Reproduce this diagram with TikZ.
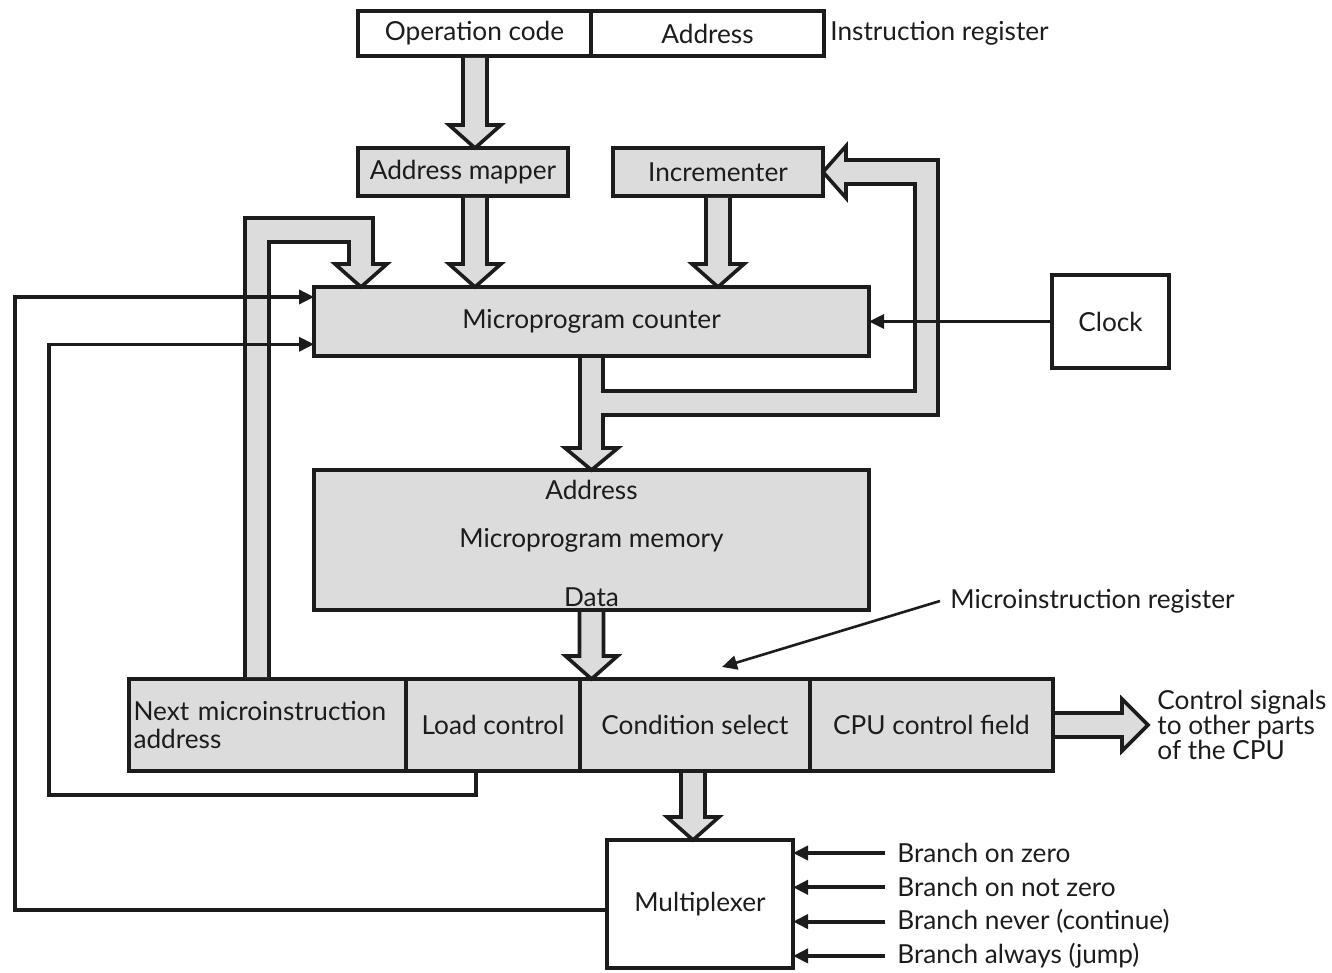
\documentclass[tikz,border=0pt]{standalone}
\usepackage{fontspec}
\setmainfont{Lato}
\usetikzlibrary{positioning,calc,arrows.meta}
\definecolor{panel}{RGB}{220,220,220}
\definecolor{ink}{RGB}{28,28,28}

\begin{document}
\begin{tikzpicture}[x=0.5pt, y=-0.5pt, >={Triangle[length=7.5pt,width=7pt]},
    font=\fontsize{13.1}{14}\selectfont, text=ink,
    box/.style={draw=ink, line width=1.7pt, fill=panel, outer sep=0pt, inner sep=2pt},
    plainbox/.style={box, fill=white},
    pipe/.style={draw=ink, line width=1.8pt, fill=panel, line join=miter},
    wire/.style={draw=ink, line width=1.7pt},
    tag/.style={inner sep=2pt, anchor=west}]
    \useasboundingbox (0,0) rectangle (1332,973);

    % instruction register
    \node[plainbox, minimum width=116.5pt, minimum height=22.5pt] (opcode) at (474.5,33.5) {Operation code};
    \node[plainbox, minimum width=116.5pt, minimum height=22.5pt, right=0pt of opcode] (addr) {Address};
    \node[tag] (irname) at (826,33) {Instruction register};

    % mapper, incrementer, counter, clock
    \node[box, minimum width=105pt, minimum height=24pt] (mapper) at (463,172) {Address mapper};
    \node[box, minimum width=105pt, minimum height=24pt] (incr) at (718,172) {Incrementer};
    \node[box, minimum width=277.5pt, minimum height=34.5pt] (upc) at (591.5,321.5) {Microprogram counter};
    \node[plainbox, minimum width=58.5pt, minimum height=46.5pt] (clock) at (1110.5,321.5) {Clock};

    % memory
    \node[box, minimum width=277.5pt, minimum height=70pt] (mem) at (591.5,540) {};
    \node (memaddr) at ($(mem.north)+(0,20)$) {Address};
    \node (memname) at (mem.center) {Microprogram memory};
    \node (memdata) at ($(mem.south)+(0,-13)$) {Data};

    % microinstruction register
    \node[box, minimum width=138.5pt, minimum height=46pt, text width=134pt, align=left] (next) at (267.5,725) {Next microinstruction\\address};
    \node[box, minimum width=87pt, minimum height=46pt, right=0pt of next] (load) {Load control};
    \node[box, minimum width=115pt, minimum height=46pt, right=0pt of load] (cond) {Condition select};
    \node[box, minimum width=121.5pt, minimum height=46pt, right=0pt of cond] (cpu) {CPU control field};
    \node[tag, align=left, font=\fontsize{13.1}{12.5}\selectfont] (signals) at (1153,725) {Control signals\\to other parts\\of the CPU};
    \node[tag] (mirname) at (946,601) {Microinstruction register};

    % multiplexer
    \node[plainbox, minimum width=93pt, minimum height=64pt] (mux) at (700,904) {Multiplexer};

    % wide data paths
    \foreach \from/\to/\cx in {opcode/mapper/475, mapper/upc/475, incr/upc/718, mem/cond/591.5, cond/mux/693} {
        \coordinate (s) at (\cx,0 |- \from.south);
        \coordinate (t) at (\cx,0 |- \to.north);
        \draw[pipe] ($(s)+(-12,2)$) -- ($(t)+(-12,-23)$) -- ++(-14,0) -- ++(26,23)
            -- ++(26,-23) -- ++(-14,0) -- ($(s)+(12,2)$);
    }
    \draw[pipe] ($(next.north west)+(116,-2)$) -- (245,218) -- (373,218) -- (373,264) -- (387,264)
        -- (361,287) -- (335,264) -- (349,264) -- (349,242) -- (269,242) -- ($(next.north west)+(140,-2)$);
    \draw[pipe] (580,358) -- (580,448) -- (565,448) -- (591.5,470) -- (618,448) -- (603,448)
        -- (603,415) -- (938,415) -- (938,160) -- (846,160) -- (846,146) -- (823,172)
        -- (846,198) -- (846,184) -- (915,184) -- (915,391) -- (603,391) -- (603,358);
    \draw[pipe] ($(cpu.east)+(2,-12)$) -- (1122,713) -- (1122,699) -- (1148,725) -- (1122,751)
        -- (1122,737) -- ($(cpu.east)+(2,12)$);

    % control wires
    \coordinate (outerleft) at (15,297);
    \coordinate (innerleft) at (49,795);
    \draw[wire, line width=1.4pt, ->] (clock.west) -- (upc.east);
    \draw[wire, ->] ($(mux.west)+(0,6)$) -| (outerleft) -- (outerleft -| upc.west);
    \draw[wire, ->] ($(load.south)+(-17,0)$) |- (innerleft) |- ($(upc.north west)!0.83!(upc.south west)$);
    \draw[wire, line width=1.3pt, ->] ($(mirname.west)+(-6,0)$) -- ($(cond.north)+(27,-12)$);

    % branch conditions
    \foreach \txt [count=\i] in {Branch on zero, Branch on not zero, Branch never (continue), Branch always (jump)} {
        \node[tag] (branch\i) at (893,{853+34.3*(\i-1)}) {\txt};
        \draw[wire, line width=2pt, ->] ($(branch\i.west)+(-8,0)$) -- (branch\i.west -| mux.east);
    }
\end{tikzpicture}
\end{document}
